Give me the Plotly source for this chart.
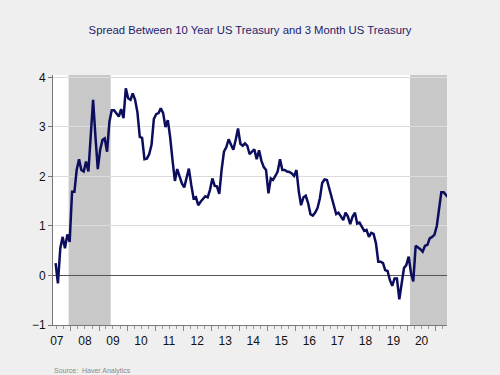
import pandas as pd
import plotly.graph_objects as go

# monthly spread values, May 2007 .. May 2021
spread = [
    0.25, -0.16, 0.55, 0.78, 0.55, 0.83, 0.68, 1.69, 1.69, 2.13,
    2.35, 2.13, 2.10, 2.30, 2.10, 2.80, 3.55, 2.80, 2.15, 2.54,
    2.74, 2.77, 2.50, 3.10, 3.34, 3.34, 3.28, 3.21, 3.36, 3.18,
    3.78, 3.58, 3.55, 3.68, 3.55, 3.30, 2.80, 2.78, 2.35, 2.36,
    2.45, 2.64, 3.16, 3.26, 3.28, 3.38, 3.28, 3.00, 3.14, 2.80,
    2.33, 1.91, 2.15, 2.01, 1.86, 1.78, 2.01, 2.16, 1.83, 1.56,
    1.58, 1.42, 1.49, 1.54, 1.60, 1.58, 1.73, 1.96, 1.81, 1.80,
    1.65, 2.13, 2.50, 2.59, 2.75, 2.64, 2.54, 2.74, 2.97, 2.66,
    2.62, 2.67, 2.62, 2.45, 2.50, 2.55, 2.35, 2.53, 2.32, 2.19,
    2.13, 1.66, 1.96, 1.93, 2.01, 2.10, 2.35, 2.13, 2.13, 2.10,
    2.09, 2.06, 2.01, 2.13, 1.69, 1.42, 1.58, 1.61, 1.46, 1.24,
    1.21, 1.27, 1.36, 1.56, 1.87, 1.94, 1.93, 1.76, 1.56, 1.42,
    1.24, 1.27, 1.19, 1.12, 1.27, 1.19, 1.04, 1.19, 1.27, 1.05,
    1.07, 0.99, 0.90, 0.92, 0.78, 0.86, 0.84, 0.65, 0.28, 0.28,
    0.25, 0.11, 0.09, -0.09, -0.21, -0.06, -0.06, -0.48, -0.16, 0.15,
    0.21, 0.38, 0.04, -0.12, 0.60, 0.57, 0.53, 0.48, 0.60, 0.62,
    0.75, 0.78, 0.82, 1.00, 1.35, 1.68, 1.68, 1.62, 1.57,
]
dates = pd.date_range("2007-05-15", periods=len(spread), freq="MS") + pd.Timedelta(days=14)

recessions = [("2007-12-01", "2009-06-01"), ("2020-02-01", "2021-05-28")]
years = list(range(2007, 2021))
year_labels = [f"{y % 100:02d}" for y in years]
label_pos = [f"{y}-07-01" for y in years]
y_ticks = [-1, 0, 1, 2, 3, 4]

x_range = ["2007-05-12", "2021-05-28"]
FONT = "Liberation Sans, Arial, sans-serif"

fig = go.Figure()
fig.add_trace(go.Scatter(x=dates, y=spread, mode="lines",
                         line=dict(color="#0d0d5e", width=2.5),
                         hoverinfo="skip", showlegend=False))
fig.add_trace(go.Scatter(x=[dates[0]], y=[None], xaxis="x2", mode="lines",
                         showlegend=False, hoverinfo="skip"))

for a, b in recessions:
    fig.add_shape(type="rect", xref="x", yref="paper", x0=a, x1=b, y0=0, y1=1,
                  fillcolor="#c8c8c8", line_width=0, layer="below")

fig.update_layout(
    width=500, height=375,
    margin=dict(l=53, r=53, t=75, b=50),
    paper_bgcolor="#efefef", plot_bgcolor="#ffffff",
    font=dict(family=FONT, size=12, color="#111111"),
    title=dict(text="Spread Between 10 Year US Treasury and 3 Month US Treasury",
               x=0.5, xanchor="center", y=1 - 30 / 375, yanchor="middle", yref="container",
               font=dict(family=FONT, size=11.3, color="#1c1c6e")),
    xaxis=dict(type="date", range=x_range, tickmode="array", tickvals=label_pos,
               ticktext=year_labels, ticks="outside", ticklen=5, tickcolor="rgba(0,0,0,0)",
               showgrid=False, zeroline=False, showline=True, linecolor="#777777",
               linewidth=1, tickfont=dict(size=12, color="#111111")),
    xaxis2=dict(type="date", range=x_range, overlaying="x", anchor="y", side="bottom",
                dtick="M12", tick0="2007-01-01", ticks="outside", ticklen=5,
                tickcolor="#888888", showticklabels=False, showgrid=False,
                zeroline=False, showline=False,
                minor=dict(dtick="M3", tick0="2007-01-01", ticks="outside", ticklen=3,
                           tickcolor="#999999", showgrid=False)),
    yaxis=dict(range=[-1, 4.05], tickmode="array", tickvals=y_ticks,
               ticks="outside", ticklen=4, tickcolor="#777777",
               showgrid=True, gridcolor="#dcdcdc", gridwidth=1,
               zeroline=True, zerolinecolor="#555555", zerolinewidth=1,
               showline=True, linecolor="#777777", linewidth=1,
               tickfont=dict(size=12, color="#111111")),
    annotations=[dict(text="Source:  Haver Analytics", xref="paper", yref="paper",
                      x=-0.003, y=-0.184, xanchor="left", yanchor="middle",
                      showarrow=False, font=dict(family=FONT, size=7, color="#8a8a8a"))],
)

fig.write_html("out.html", config={"displayModeBar": False},
               post_script="document.body.style.margin='0';"
                           "document.body.style.background='#efefef';")
